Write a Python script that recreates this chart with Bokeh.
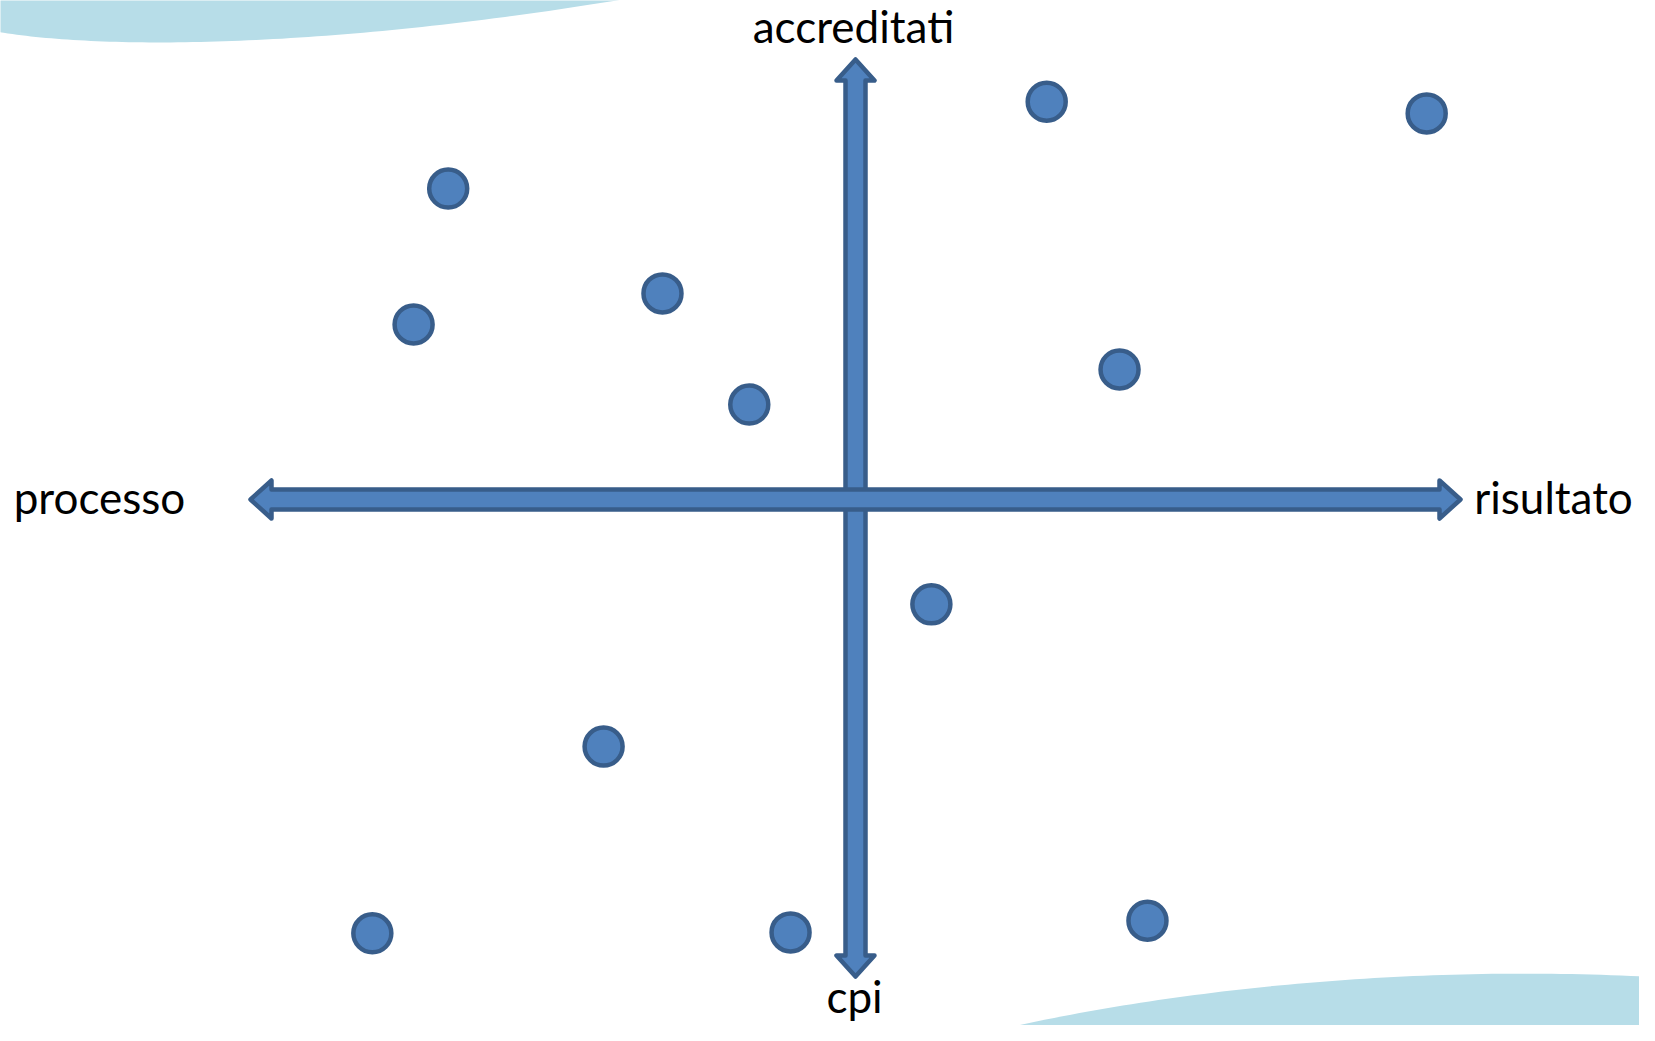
import numpy as np
from bokeh.plotting import figure
from bokeh.models import Range1d
from bokeh.core.properties import value
from bokeh.embed import file_html
from bokeh.resources import INLINE

# ---- data (axis units: -10 .. 10 along each arrow) ----
point_x = [3.15, 9.41, -6.71, -3.18, -7.28, 4.35, -1.75, 1.25, -4.15, -7.96, -1.07, 4.81]
point_y = [8.84, 8.58, 6.91, 4.58, 3.89, 2.89, 2.11, -2.33, -5.49, -9.64, -9.62, -9.36]
label_left = "processo"
label_right = "risultato"
label_top = "accreditati"
label_bottom = "cpi"

# ---- geometry helpers (picture pixels -> axis units) ----
W, H = 1639, 1025
CX, CY = 855.0, 499.0   # px of the crossing
SX, SY = 60.7, 45.0     # px per unit
TXT = 17                # baseline correction for svg text (px)

def dx(px):
    return (px - CX) / SX

def dy(py):
    return (CY - py) / SY

p = figure(width=W, height=H, output_backend="svg", toolbar_location=None,
           x_axis_type=None, y_axis_type=None, min_border=0,
           x_range=Range1d(dx(0), dx(W)),
           y_range=Range1d(dy(H), dy(0)))
p.grid.visible = False
p.outline_line_color = None
p.background_fill_color = "white"
p.border_fill_color = "white"

# ---- decorative waves ----
def cubic(p0, p1, p2, p3, n=80):
    t = np.linspace(0, 1, n)[:, None]
    P = ((1 - t) ** 3) * np.array(p0) + 3 * ((1 - t) ** 2) * t * np.array(p1) \
        + 3 * (1 - t) * t ** 2 * np.array(p2) + t ** 3 * np.array(p3)
    return P[:, 0], P[:, 1]

wx, wy = cubic((-5, 31), (100, 49), (320, 49), (628, -2))
wx = np.concatenate([[-5], wx, [-5]])
wy = np.concatenate([[-5], wy, [-5]])
p.patch([dx(v) for v in wx], [dy(v) for v in wy], fill_color="#B7DDE8", line_color=None)

bx, by = cubic((935, 1045), (1130, 992), (1400, 962), (1660, 977))
bx = np.concatenate([bx, [1660, 935]])
by = np.concatenate([by, [1045, 1045]])
p.patch([dx(v) for v in bx], [dy(v) for v in by], fill_color="#B7DDE8", line_color=None)

# ---- arrows ----
FILL = "#4F81BD"
EDGE = "#385D8A"
LW = 4.5
SH, HH, HL = 10, 19, 21  # shaft half-width, head half-width, head length (px)

# vertical double arrow
top, bot = 59, 976
vx = [CX, CX + HH, CX + SH, CX + SH, CX + HH, CX, CX - HH, CX - SH, CX - SH, CX - HH]
vy = [top, top + HL, top + HL, bot - HL, bot - HL, bot, bot - HL, bot - HL, top + HL, top + HL]
p.patch([dx(v) for v in vx], [dy(v) for v in vy], fill_color=FILL, line_color=EDGE,
        line_width=LW, line_join="round")

# horizontal double arrow
lft, rgt = 250, 1460
hx = [lft, lft + HL, lft + HL, rgt - HL, rgt - HL, rgt, rgt - HL, rgt - HL, lft + HL, lft + HL]
hy = [CY, CY - HH, CY - SH, CY - SH, CY - HH, CY, CY + HH, CY + SH, CY + SH, CY + HH]
p.patch([dx(v) for v in hx], [dy(v) for v in hy], fill_color=FILL, line_color=EDGE,
        line_width=LW, line_join="round")

# ---- points ----
p.scatter(point_x, point_y, size=38, fill_color=FILL, line_color=EDGE, line_width=LW)

# ---- labels ----
FONT = value("Lato")
FS = "44px"
def label(x, y, t):
    p.text([dx(x)], [dy(y - TXT)], text=[t], text_font=FONT, text_font_size=FS,
           text_align="center", text_baseline="alphabetic", text_color="black")

label(99, 513, label_left)
label(1553, 513, label_right)
label(853, 42, label_top)
label(854, 1012, label_bottom)

open("out.html", "w").write(file_html(p, INLINE))
